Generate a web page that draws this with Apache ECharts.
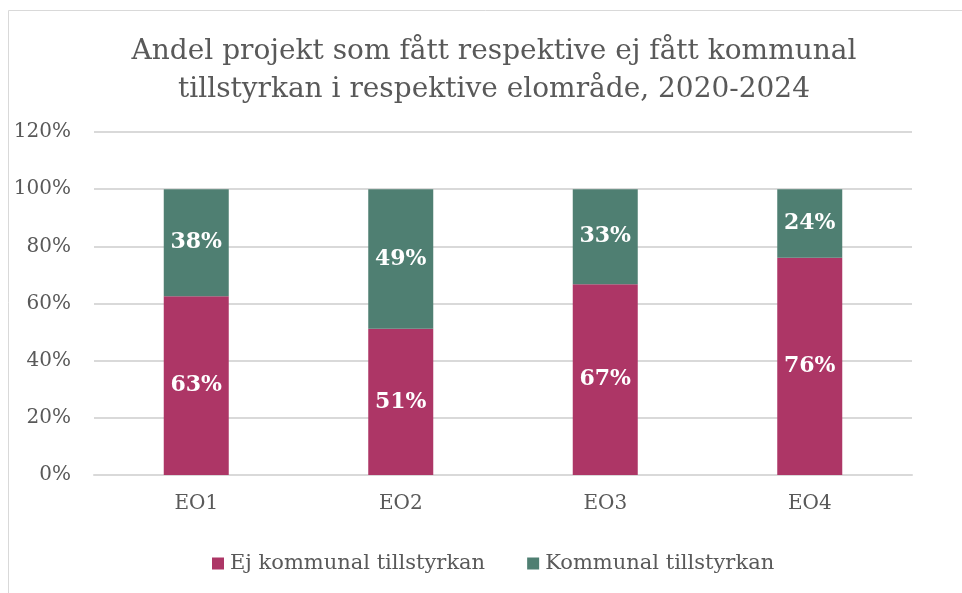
<!DOCTYPE html>
<html>
<head>
<meta charset="utf-8">
<script src="https://cdn.jsdelivr.net/npm/echarts@6/dist/echarts.min.js"></script>
<style>
  html, body { margin: 0; padding: 0; background: #fff; }
  #chart { width: 962px; height: 593px; }
</style>
</head>
<body>
<div id="chart"></div>
<script>
  const categories = ["EO1", "EO2", "EO3", "EO4"];
  const ejKommunal = [0.625, 0.512, 0.667, 0.76];
  const kommunal = [0.375, 0.488, 0.333, 0.24];
  const seriesNames = ["Ej kommunal tillstyrkan", "Kommunal tillstyrkan"];

  const font = "DejaVu Serif";
  const textColor = "#595959";

  function pctLabel(p) {
    return Math.round(p.value * 100) + "%";
  }

  const barLabel = {
    show: true,
    position: "inside",
    formatter: pctLabel,
    color: "#fff",
    fontFamily: font,
    fontWeight: "bold",
    fontSize: 22
  };

  const chart = echarts.init(document.getElementById("chart"));

  chart.setOption({
    animation: false,
    textStyle: { fontFamily: font },
    graphic: [
      {
        type: "rect",
        shape: { x: 8.5, y: 10.5, width: 1000, height: 1000 },
        style: { fill: "none", stroke: "#d9d9d9", lineWidth: 1 },
        silent: true
      }
    ],
    title: {
      text: "Andel projekt som fått respektive ej fått kommunal\ntillstyrkan i respektive elområde, 2020-2024",
      left: 489,
      top: 28,
      textAlign: "center",
      textStyle: {
        fontFamily: font,
        fontWeight: "normal",
        fontSize: 28,
        lineHeight: 38,
        color: textColor
      }
    },
    legend: {
      bottom: 14,
      left: 207,
      itemWidth: 12,
      itemHeight: 12,
      itemGap: 42,
      icon: "rect",
      textStyle: { fontFamily: font, fontSize: 21, color: textColor, padding: [0, 0, 0, 1] }
    },
    grid: { left: 94, right: 50, top: 132, bottom: 118, containLabel: false },
    xAxis: {
      type: "category",
      data: categories,
      axisLine: { lineStyle: { color: "#d9d9d9", width: 2 } },
      axisTick: { show: false },
      axisLabel: { fontFamily: font, fontSize: 20, color: textColor, margin: 19 }
    },
    yAxis: {
      type: "value",
      min: 0,
      max: 1.2,
      interval: 0.2,
      axisLine: { show: false },
      axisTick: { show: false },
      splitLine: { lineStyle: { color: "#d9d9d9", width: 2 } },
      axisLabel: {
        fontFamily: font,
        fontSize: 20,
        color: textColor,
        margin: 23,
        formatter: v => Math.round(v * 100) + "%"
      }
    },
    series: [
      {
        name: seriesNames[0],
        type: "bar",
        stack: "total",
        barWidth: 65,
        data: ejKommunal,
        itemStyle: { color: "#ad3666" },
        label: barLabel
      },
      {
        name: seriesNames[1],
        type: "bar",
        stack: "total",
        barWidth: 65,
        data: kommunal,
        itemStyle: { color: "#4f7f72" },
        label: barLabel
      }
    ]
  });
</script>
</body>
</html>
